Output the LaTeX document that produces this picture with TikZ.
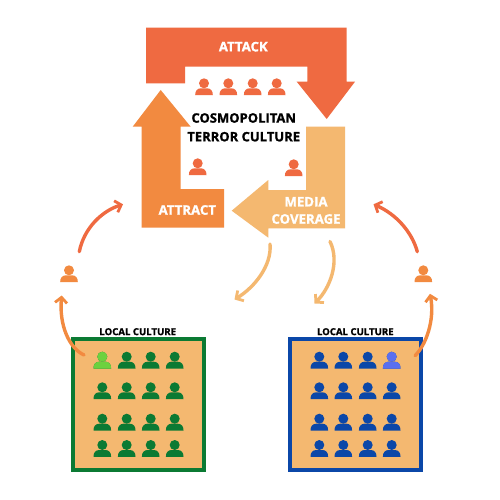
\documentclass[tikz,border=0pt]{standalone}
\usepackage{fontspec}
\setmainfont{Open Sans}[BoldFeatures={FakeBold=1.2}]
\usetikzlibrary{arrows.meta}
\definecolor{atk}{HTML}{EF6A41}
\definecolor{atr}{HTML}{F28A40}
\definecolor{med}{HTML}{F4B870}
\definecolor{grn}{HTML}{0B7A33}
\definecolor{lgrn}{HTML}{6DD13F}
\definecolor{blu}{HTML}{0B47A8}
\definecolor{lblu}{HTML}{5B6FF0}
\tikzset{
  person/.pic={
    \fill[pic actions] (0,0) circle[radius=5pt];
    \fill[pic actions] (-8.8,11.8) .. controls (-9,7.5) and (-6.5,5) .. (-3,5) -- (3,5) .. controls (6.5,5) and (9,7.5) .. (8.8,11.8) -- cycle;
  },
  lbl/.style={font=\bfseries\fontsize{13.2}{14}\selectfont,text=white,inner sep=0pt},
  blk/.style={font=\bfseries\fontsize{13}{14}\selectfont,text=black,inner sep=0pt},
  small/.style={font=\bfseries\fontsize{9.6}{10}\selectfont,text=black,inner sep=0pt},
  curve/.style={line width=3.4pt,line cap=round,-{Straight Barb[length=5.5pt,width=12pt,line width=2.8pt]}},
  boxed/.style={draw=#1,line width=4pt,fill=med},
}
\begin{document}
\begin{tikzpicture}[x=1pt,y=-1pt]
\useasboundingbox (0,0) rectangle (500,500);
\fill[white] (0,0) rectangle (500,500);
% big arrows
\fill[atk] (146,27.7) -- (346.7,27.7) -- (346.7,81.7) -- (355,81.7) -- (326.7,119) -- (296.7,81.7) -- (307.3,81.7) -- (307.3,66.7) -- (185,66.7) -- (185,83.3) -- (146,83.3) -- cycle;
\fill[atr] (160.7,90) -- (190.7,126.7) -- (180.7,126.7) -- (180.7,189) -- (224,189) -- (224,227.7) -- (141.7,227.7) -- (141.7,126.7) -- (132.7,126.7) -- cycle;
\fill[med] (306,126.7) -- (345,126.7) -- (345,228.3) -- (268.3,228.3) -- (268.3,237.7) -- (231.7,210.7) -- (268.3,180) -- (268.3,190) -- (306,190) -- cycle;
\node[lbl] (attack) at (243.3,46.7) {ATTACK};
\node[lbl] (attract) at (187.3,210) {ATTRACT};
\node[lbl] (media) at (306,201.7) {MEDIA};
\node[lbl] (coverage) at (306,219) {COVERAGE};
\node[blk] (cosmo) at (243.7,118) {COSMOPOLITAN};
\node[blk] (terror) at (243.7,136.7) {TERROR CULTURE};
% persons in the centre
\foreach \x in {204,228.3,252.7,276.7} \pic[fill=atk] at (\x,83.3) {person};
\pic[fill=atk] at (197.7,163.3) {person};
\pic[fill=atk] at (293.7,164.3) {person};
% migrants
\pic[fill=atr] at (69,270.3) {person};
\pic[fill=atr] at (423.3,270.3) {person};
% boxes
\node[small] (lc1) at (137.7,331.7) {LOCAL CULTURE};
\node[small] (lc2) at (355.3,331.7) {LOCAL CULTURE};
\draw[boxed=grn] (73,339) rectangle (203.7,470);
\draw[boxed=blu] (290.3,339) rectangle (421.3,470);
\foreach \y in {356.7,387.3,418.7,445} {
  \foreach \x in {102.3,126.7,150.7,174.7} \pic[fill=grn] at (\x,\y) {person};
  \foreach \x in {319.3,343.3,367.7,391.7} \pic[fill=blu] at (\x,\y) {person};
}
\pic[fill=lgrn] at (102.3,356.7) {person};
\pic[fill=lblu] at (391.7,356.7) {person};
% connectors
\coordinate (a1) at (79.3,251.7); \coordinate (a2) at (123,204.3);
\coordinate (b1) at (84,355); \coordinate (b2) at (61.7,295.5);
\coordinate (c1) at (417.3,251.7); \coordinate (c2) at (373.5,204.3);
\coordinate (d1) at (415,355.7); \coordinate (d2) at (430,293.8);
\coordinate (e1) at (270,244); \coordinate (e2) at (234.5,299.5);
\coordinate (f1) at (330,241.5); \coordinate (f2) at (314.5,303.5);
\draw[curve,atk] (a1) .. controls (84,228) and (102,211) .. (a2);
\draw[curve,atr] (b1) .. controls (69,348) and (59,325) .. (b2);
\draw[curve,atk] (c1) .. controls (412,232) and (396,214) .. (c2);
\draw[curve,atr] (d1) .. controls (426,345) and (435,320) .. (d2);
\draw[curve,med] (e1) .. controls (272,265) and (255,287) .. (e2);
\draw[curve,med] (f1) .. controls (340,262) and (330,288) .. (f2);
\end{tikzpicture}
\end{document}
